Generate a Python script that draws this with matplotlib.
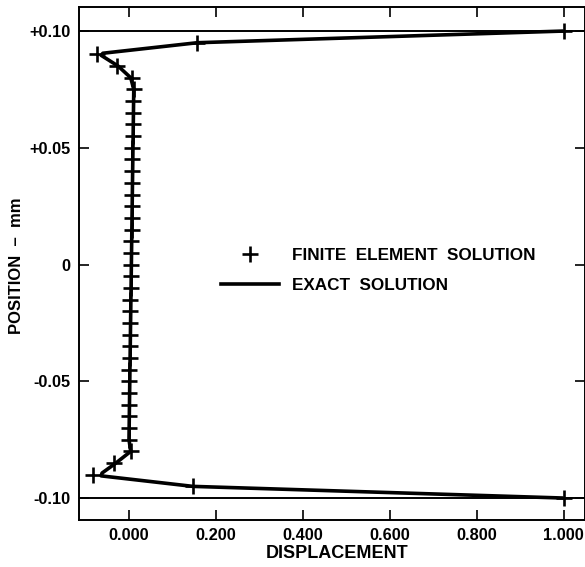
import matplotlib
matplotlib.use("Agg")
import matplotlib.pyplot as plt
from matplotlib.lines import Line2D

# Finite element nodal solution (position in mm, displacement)
fe_position = [0.100, 0.095, 0.090, 0.085, 0.080,
               0.075, 0.070, 0.065, 0.060, 0.055, 0.050, 0.045, 0.040,
               0.035, 0.030, 0.025, 0.020, 0.015, 0.010, 0.005, 0.000,
               -0.005, -0.010, -0.015, -0.020, -0.025, -0.030, -0.035,
               -0.040, -0.045, -0.050, -0.055, -0.060, -0.065, -0.070,
               -0.075, -0.080, -0.085, -0.090, -0.095, -0.100]
fe_displacement = [1.000, 0.157, -0.074, -0.027, 0.006,
                   0.011, 0.010, 0.010, 0.009, 0.009, 0.008, 0.008, 0.008,
                   0.007, 0.007, 0.006, 0.006, 0.006, 0.005, 0.005, 0.004,
                   0.004, 0.004, 0.003, 0.003, 0.003, 0.002, 0.002,
                   0.002, 0.001, 0.001, 0.001, 0.000, 0.000, 0.000,
                   0.000, 0.005, -0.035, -0.082, 0.147, 1.000]

# Exact solution curve
exact_position = [0.100, 0.0950, 0.0905, 0.0896, 0.085, 0.080, 0.075,
                  -0.075, -0.080, -0.085, -0.0893, -0.0905, -0.0950, -0.100]
exact_displacement = [1.000, 0.157, -0.060, -0.064, -0.025, 0.004, 0.011,
                      0.000, 0.004, -0.030, -0.062, -0.064, 0.147, 1.000]

x_ticks = [0.0, 0.2, 0.4, 0.6, 0.8, 1.0]
x_tick_labels = ["0.000", "0.200", "0.400", "0.600", "0.800", "1.000"]
y_ticks = [0.10, 0.05, 0.0, -0.05, -0.10]
y_tick_labels = ["+0.10", "+0.05", "0", "-0.05", "-0.10"]

plt.rcParams['font.family'] = ['Liberation Sans', 'DejaVu Sans']

fig = plt.figure(figsize=(5.85, 5.67), dpi=100)
ax = fig.add_axes([79 / 585, 1 - 520 / 567, (584.5 - 79) / 585, (520 - 7) / 567])

ax.set_xlim(-0.115, 1.048)
ax.set_ylim(-0.1094, 0.1103)

# Boundary lines at the faces of the layer
for yb in (0.10, -0.10):
    ax.axhline(yb, color='black', lw=1.4, zorder=1)

ax.plot(exact_displacement, exact_position, color='black', lw=2.6,
        solid_capstyle='butt', solid_joinstyle='round', zorder=2)
ax.plot(fe_displacement, fe_position, linestyle='none', marker='+',
        ms=11.5, mew=1.9, color='black', zorder=3)

ax.set_xticks(x_ticks)
ax.set_xticklabels(x_tick_labels)
ax.set_yticks(y_ticks)
ax.set_yticklabels(y_tick_labels)
ax.tick_params(axis='both', direction='in', length=7, width=1.2,
               top=True, right=True, labelsize=11.8, pad=6)
for lab in ax.get_xticklabels() + ax.get_yticklabels():
    lab.set_fontweight('bold')

for sp in ax.spines.values():
    sp.set_linewidth(1.4)

ax.set_xlabel("DISPLACEMENT", fontsize=13, fontweight='bold', labelpad=3)
ax.xaxis.set_label_coords(0.511, -0.048)
ax.set_ylabel("POSITION  \u2013  mm", fontsize=12, fontweight='bold', labelpad=0)
ax.yaxis.set_label_coords(-0.108, 0.495)

handles = [
    Line2D([], [], linestyle='none', marker='+', ms=11.5, mew=1.9, color='black'),
    Line2D([], [], color='black', lw=2.6),
]
labels = ["FINITE  ELEMENT  SOLUTION", "EXACT  SOLUTION"]
leg = ax.legend(handles, labels, frameon=False, loc='upper left',
                bbox_to_anchor=(0.25, 0.56), handlelength=3.4,
                handletextpad=0.8, labelspacing=0.85,
                prop={'weight': 'bold', 'size': 12.3})

fig.savefig("out.png", dpi=100)
